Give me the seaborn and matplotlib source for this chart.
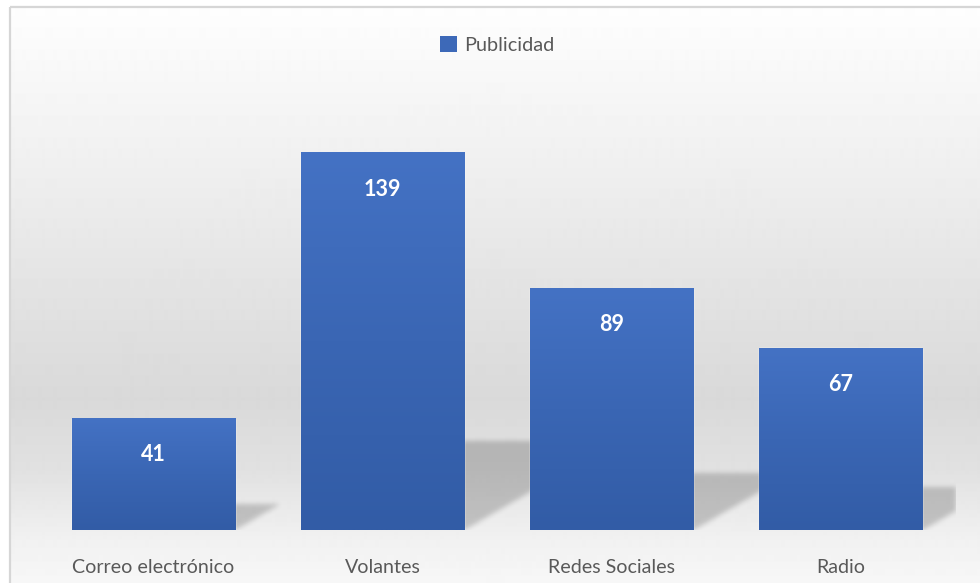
import numpy as np
import pandas as pd
import matplotlib
matplotlib.use("Agg")
import matplotlib.pyplot as plt
import seaborn as sns
from matplotlib.patches import Rectangle, Patch
from matplotlib.colors import LinearSegmentedColormap

# Data
categorias = ["Correo electrónico", "Volantes", "Redes Sociales", "Radio"]
valores = [41, 139, 89, 67]
serie = "Publicidad"

sns.set_theme(style="white")
plt.rcParams["font.family"] = ["Lato", "DejaVu Sans"]

W, H = 980, 583
fig = plt.figure(figsize=(W / 100, H / 100), dpi=100)

# Chart-area background: vertical grey gradient inside a light border
bg = fig.add_axes([0, 0, 1, 1], zorder=-10)
bg.set_axis_off()
stops_y = np.array([6, 150, 300, 400, 470, 540, 583])
stops_g = np.array([254, 241, 226, 217, 225, 241, 247]) / 255
col = np.interp(np.arange(H) + 0.5, stops_y, stops_g)
img = np.repeat(col[:, None], W, axis=1)
img[:6, :] = 1.0
img[:, :9] = 1.0
bg.imshow(img, cmap="gray", vmin=0, vmax=1, extent=(0, W, H, 0),
          aspect="auto", interpolation="bilinear")
bg.set_xlim(0, W)
bg.set_ylim(H, 0)
bg.add_patch(Rectangle((9.5, 6.5), W, H, fill=False, edgecolor="#d6d6d6", lw=1.6))

# Plot area
AX_L, AX_B, AX_W, AX_H = 39, 53, 916, 440
ax = fig.add_axes([AX_L / W, AX_B / H, AX_W / W, AX_H / H])
ax.set_facecolor("none")

df = pd.DataFrame({"Medio": categorias, "Personas": valores, "Serie": serie})
sns.barplot(data=df, x="Medio", y="Personas", hue="Serie", palette=["#3d69b8"],
            width=0.712, ax=ax, zorder=3, legend=False)

ymax = 162.2
ax.set_xlim(-0.5, len(categorias) - 0.5)
ax.set_ylim(0, ymax)

# Gradient fill for the bars
bar_cmap = LinearSegmentedColormap.from_list("barra", ["#4472c4", "#3a66b4", "#325ca6"])
grad = np.linspace(0, 1, 256)[:, None]
bars = list(ax.patches)
for p in bars:
    x0, w, h = p.get_x(), p.get_width(), p.get_height()
    ax.imshow(grad, cmap=bar_cmap, extent=(x0, x0 + w, 0, h), origin="upper",
              aspect="auto", zorder=3.5, interpolation="bilinear")

# Soft perspective shadows cast to the upper right of each bar
ppu_x = AX_W / len(categorias)
ppu_y = AX_H / ymax
xx = np.arange(AX_W)[None, :] + 0.5
yy = np.arange(AX_H)[:, None] + 0.5
mask = np.zeros((AX_H, AX_W))
for p in bars:
    L = (p.get_x() + 0.5) * ppu_x
    R = (p.get_x() + p.get_width() + 0.5) * ppu_x
    s = 0.235 * p.get_height() * ppu_y
    dx = s / 0.58
    shift = dx * yy / s
    m = (yy <= s) & (xx >= L + shift) & (xx <= R + shift)
    mask = np.maximum(mask, m.astype(float))

sig = 2.5
k = np.exp(-0.5 * (np.arange(-8, 9) / sig) ** 2)
k /= k.sum()
mask = np.apply_along_axis(lambda r: np.convolve(r, k, mode="same"), 1, mask)
mask = np.apply_along_axis(lambda c: np.convolve(c, k, mode="same"), 0, mask)
shadow = np.zeros((AX_H, AX_W, 4))
shadow[..., 3] = 0.19 * mask
ax.imshow(shadow, extent=(-0.5, len(categorias) - 0.5, 0, ymax), origin="lower",
          aspect="auto", zorder=2, interpolation="bilinear")
ax.set_xlim(-0.5, len(categorias) - 0.5)
ax.set_ylim(0, ymax)

# Value labels inside the top of each bar
for p, v in zip(bars, valores):
    ax.annotate(f"{v}", xy=(p.get_x() + p.get_width() / 2, v), xytext=(0, -26),
                textcoords="offset points", ha="center", va="center",
                color="white", fontweight="bold", fontsize=15.5, zorder=6)

ax.set_xlabel("")
ax.set_ylabel("")
ax.set_yticks([])
ax.tick_params(axis="x", length=0, pad=21, labelsize=14.1, labelcolor="#595959")
sns.despine(ax=ax, left=True, bottom=True)

# Legend
handle = Patch(facecolor="#3d69b8", edgecolor="none")
ax.legend([handle], [serie], loc="center", bbox_to_anchor=(497 / W, 1 - 45 / H),
          bbox_transform=fig.transFigure, frameon=False, fontsize=14.3,
          handlelength=0.85, handleheight=0.85, handletextpad=0.35,
          labelcolor="#595959")

fig.savefig("out.png", dpi=100)
